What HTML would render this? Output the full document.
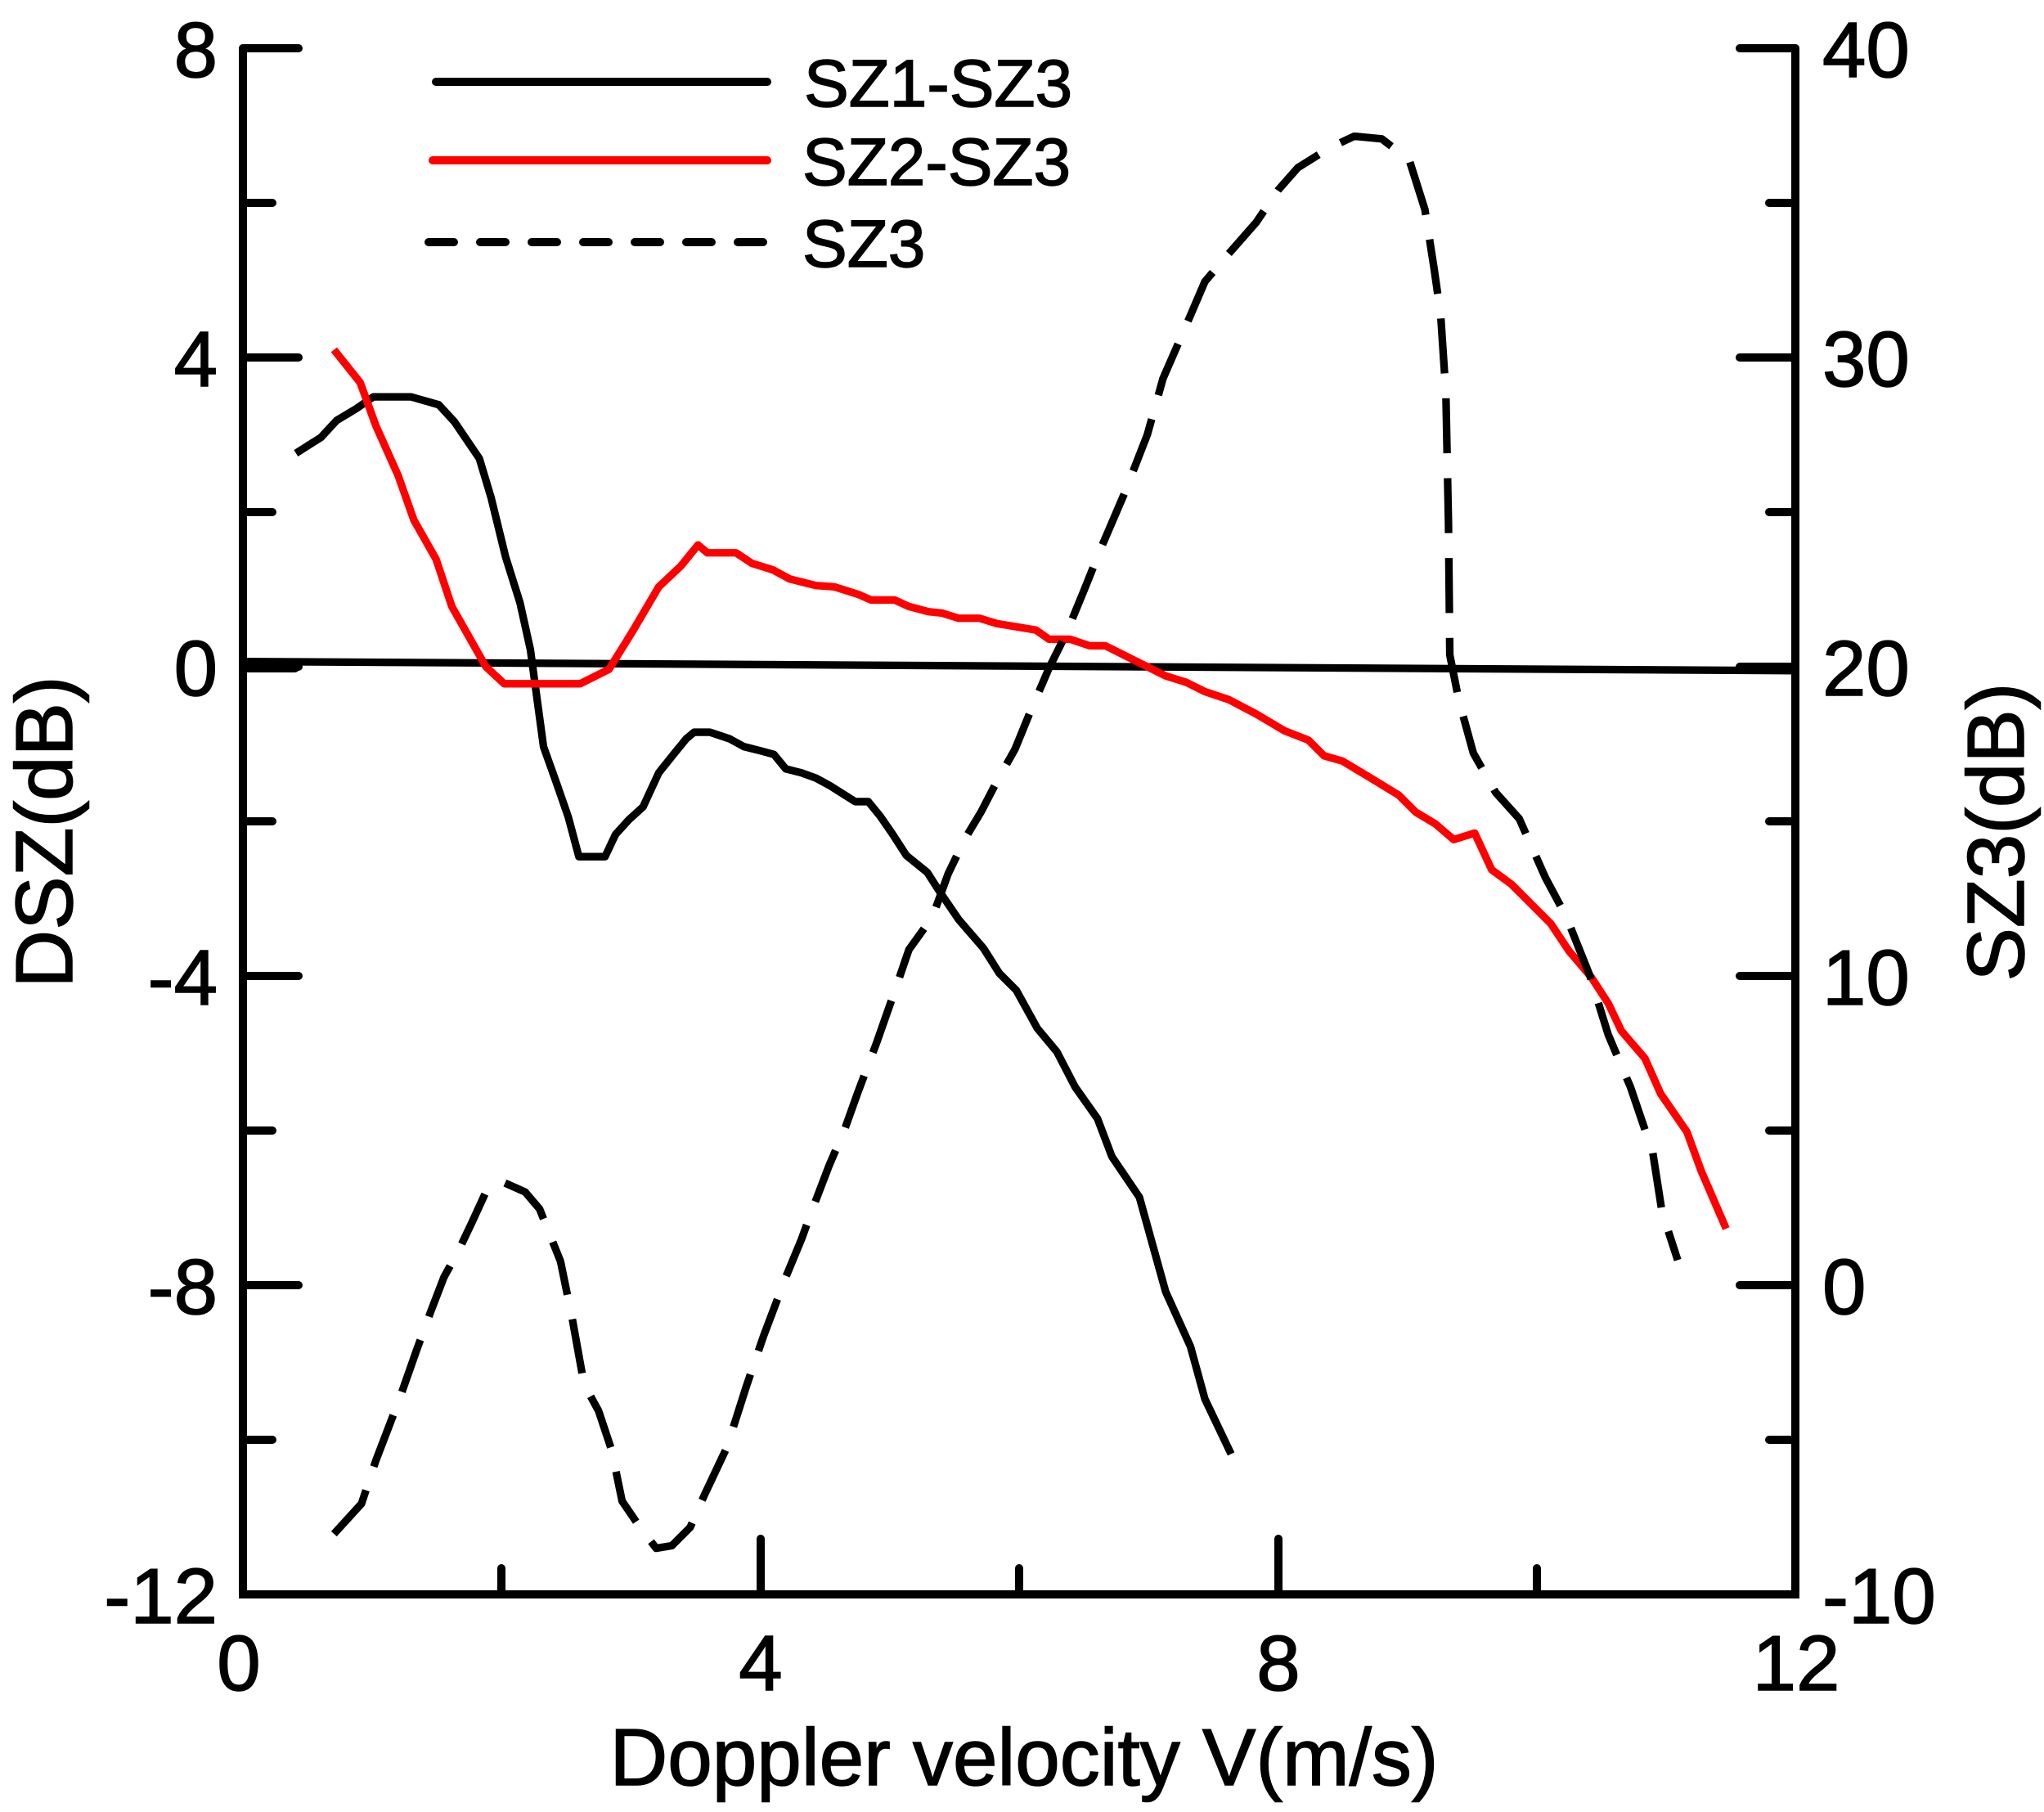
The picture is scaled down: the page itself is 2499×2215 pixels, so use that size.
<!DOCTYPE html>
<html><head><meta charset="utf-8"><style>
html,body{margin:0;padding:0;background:#fff}
svg{display:block}
text{font-family:"Liberation Sans",Arial,sans-serif;fill:#000;stroke:#000;stroke-width:1.5}
</style></head><body>
<svg width="2499" height="2215" viewBox="0 0 2499 2215" xmlns="http://www.w3.org/2000/svg">
<rect width="2499" height="2215" fill="#fff"/>
<g stroke="#000" stroke-width="10" fill="none" stroke-linecap="round">
<path d="M297 59 V1949 H2195 V59"/>
<path d="M297 59 H365 M297 248 H333 M297 437 H365 M297 626 H333 M297 815 H365 M297 1004 H333 M297 1193 H365 M297 1382 H333 M297 1571 H365 M297 1760 H333"/>
<path d="M2195 59 H2127 M2195 248 H2163 M2195 437 H2127 M2195 626 H2163 M2195 815 H2127 M2195 1004 H2163 M2195 1193 H2127 M2195 1382 H2163 M2195 1571 H2127 M2195 1760 H2163"/>
<path d="M613 1949 V1917 M930 1949 V1881 M1246 1949 V1917 M1563 1949 V1881 M1879 1949 V1917"/>
<path d="M300 815 H360" stroke-width="14"/>
</g>
<g font-size="96" text-anchor="end">
<text x="266" y="94">8</text><text x="266" y="472">4</text><text x="266" y="850">0</text>
<text x="266" y="1228">-4</text><text x="266" y="1606">-8</text><text x="266" y="1984">-12</text>
</g>
<g font-size="96" text-anchor="start">
<text x="2228" y="94">40</text><text x="2228" y="472">30</text><text x="2228" y="850">20</text>
<text x="2228" y="1228">10</text><text x="2228" y="1606">0</text><text x="2228" y="1984">-10</text>
</g>
<g font-size="96" text-anchor="middle">
<text x="292" y="2066">0</text><text x="930" y="2066">4</text><text x="1563" y="2066">8</text><text x="2196" y="2066">12</text>
</g>
<text x="1252" y="2182" font-size="98" text-anchor="middle">Doppler velocity V(m/s)</text>
<text transform="translate(88,1017) rotate(-90)" font-size="98" text-anchor="middle">DSZ(dB)</text>
<text transform="translate(2474,1017) rotate(-90)" font-size="98" text-anchor="middle">SZ3(dB)</text>
<g stroke-width="10" stroke-linecap="round" fill="none">
<path d="M533 100 H938" stroke="#000"/>
<path d="M529 196 H938" stroke="#f00"/>
<path d="M524 296 H938" stroke="#000" stroke-dasharray="31 32"/>
</g>
<g font-size="82">
<text x="983" y="130">SZ1-SZ3</text>
<text x="981" y="226">SZ2-SZ3</text>
<text x="981" y="326">SZ3</text>
</g>
<g transform="scale(1.6012)" fill="none" stroke-width="5.8" stroke-linejoin="round">
<path stroke="#000" d="M183 505 L1372 512"/>
<path stroke="#000" d="M226,346 L245,334 257,321 272,312 285,303 314,303 335,309 347,322 366,350 375,380 386,425 397,460 405,496 415,570 425,598 434,624 442,654 462,654 470,637 480,626 491,616 503,590 515,575 524,564 530,559 542,559 557,564 568,570 580,573 591,576 600,587 612,590 623,594 634,600 653,612 663,612 672,623 681,636 692,653 708,666 717,680 732,702 751,724 763,743 776,756 792,785 807,803 821,830 838,854 849,883 870,914 890,986 909,1028 920,1068 940,1110"/>
<path stroke="#f00" d="M255,267 L275,292 287,325 304,363 316,397 333,427 345,463 371,509 385,522 443,522 465,511 483,482 503,448 520,432 533,416 540,422 562,422 574,430 590,435 603,442 623,447 637,448 656,454 665,458 683,458 694,463 709,467 719,468 732,472 748,472 761,476 791,481 801,488 817,488 832,493 844,493 872,507 890,516 906,521 920,528 938,534 959,545 981,558 999,565 1011,577 1025,581 1045,593 1068,607 1081,620 1096,629 1110,641 1126,636 1139,664 1154,675 1167,688 1184,705 1198,726 1215,746 1228,766 1238,787 1256,808 1268,835 1288,864 1299,894 1318,938"/>
<path stroke="#000" stroke-dasharray="42 19" d="M255,1171 L276,1148 287,1115 305,1068 318,1031 329,1001 339,975 350,955 360,934 371,910 383,902 401,910 412,923 428,963 437,1007 446,1057 457,1077 467,1107 475,1146 488,1165 501,1182 513,1180 527,1166 538,1141 555,1105 570,1058 583,1020 600,975 612,946 620,924 633,890 645,862 655,834 669,797 682,760 694,725 712,700 724,667 737,640 749,620 762,595 775,572 786,545 801,510 814,484 828,450 840,420 858,378 876,332 888,289 905,250 920,215 937,195 959,170 976,145 991,128 1015,113 1034,104 1055,106 1076,122 1088,160 1095,205 1100,240 1104,300 1106,400 1107,500 1114,535 1125,575 1142,605 1160,625 1180,670 1196,700 1214,745 1228,790 1245,830 1262,880 1269,925 1281,962"/>
</g>
</svg>
</body></html>
